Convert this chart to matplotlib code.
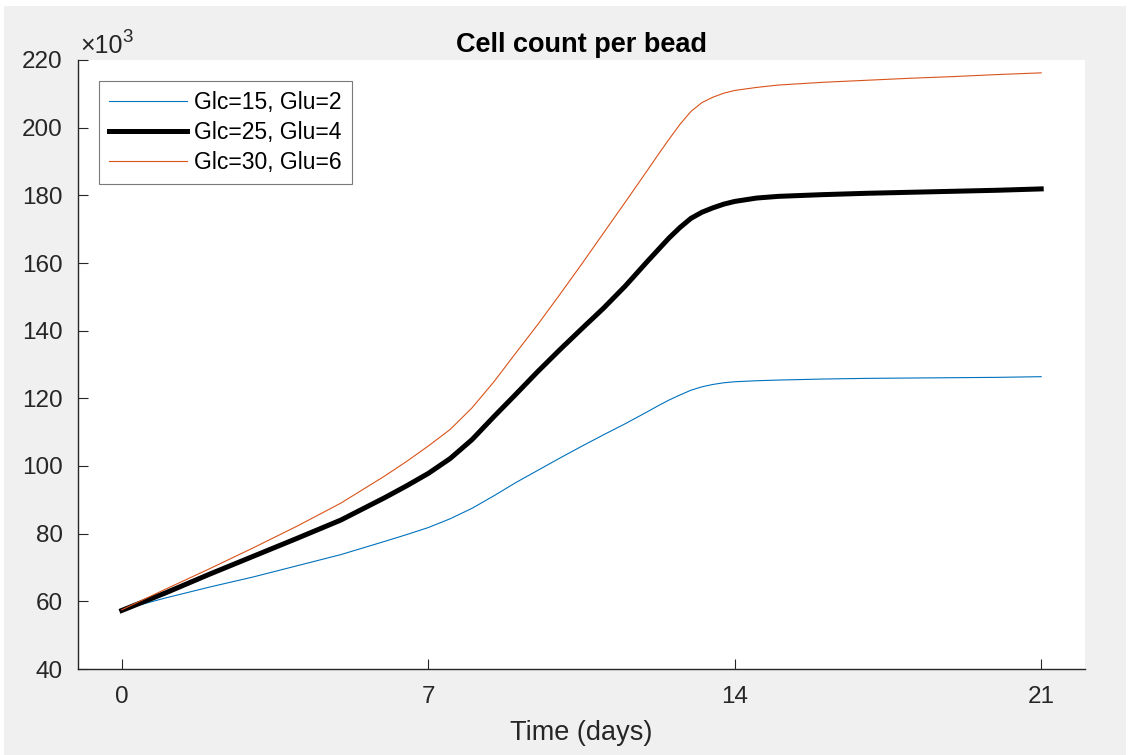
import numpy as np
import matplotlib
matplotlib.use("Agg")
import matplotlib.pyplot as plt
from matplotlib.patches import Rectangle

# time points (days)
days = [0, 1, 2, 3, 4, 5, 6, 6.5, 7, 7.5, 8, 8.5, 9, 9.5, 10, 10.5, 11,
        11.5, 12, 12.25, 12.5, 12.75, 13, 13.25, 13.5, 13.75, 14, 14.5,
        15, 16, 17, 18, 19, 20, 21]

# cell count per bead, in thousands
glc15_glu2 = [57.5, 61.0, 64.2, 67.2, 70.5, 73.8, 77.7, 79.7, 81.8, 84.4,
              87.5, 91.2, 95.1, 98.7, 102.3, 105.8, 109.2,
              112.5, 116.0, 117.8, 119.5, 121.0, 122.4, 123.4, 124.1, 124.6,
              124.9, 125.2, 125.4, 125.7, 125.9, 126.0, 126.1, 126.2, 126.4]
glc25_glu4 = [57.3, 62.5, 68.0, 73.3, 78.6, 84.0, 90.6, 94.1, 97.8, 102.2,
              107.8, 114.6, 121.2, 127.9, 134.3, 140.5, 146.6,
              153.2, 160.4, 163.9, 167.4, 170.5, 173.2, 175.0, 176.3, 177.4,
              178.2, 179.2, 179.7, 180.2, 180.6, 180.9, 181.2, 181.5, 181.9]
glc30_glu6 = [57.5, 63.6, 69.6, 75.8, 82.2, 89.0, 97.0, 101.3, 105.9, 110.8,
              117.2, 124.9, 133.4, 141.8, 150.6, 159.6, 168.8,
              178.0, 187.3, 192.0, 196.6, 201.0, 204.8, 207.4, 209.0, 210.2,
              211.0, 211.9, 212.6, 213.4, 214.0, 214.6, 215.1, 215.7, 216.2]

labels = ["Glc=15, Glu=2", "Glc=25, Glu=4", "Glc=30, Glu=6"]
xticks = [0, 7, 14, 21]
yticks = list(range(40, 221, 20))

plt.rcParams['font.family'] = ['Liberation Sans', 'DejaVu Sans']

axcol = '#262626'

fig = plt.figure(figsize=(11.3, 7.55), dpi=100, facecolor='white')
# grey MATLAB figure background with a thin white screenshot margin
fig.patches.append(Rectangle((4 / 1130, 0), 1122 / 1130, 749 / 755,
                             transform=fig.transFigure, facecolor='#f0f0f0',
                             edgecolor='none', zorder=-10))

ax = fig.add_axes([78 / 1130, 86 / 755, 1007 / 1130, 609 / 755])
ax.set_facecolor('white')

ax.plot(days, glc15_glu2, color='#0072BD', lw=0.8, label=labels[0],
        solid_joinstyle='round')
ax.plot(days, glc25_glu4, color='black', lw=3.6, label=labels[1],
        solid_joinstyle='round')
ax.plot(days, glc30_glu6, color='#D95319', lw=0.8, label=labels[2],
        solid_joinstyle='round')

ax.set_xlim(-1, 22)
ax.set_ylim(40, 220)
ax.set_xticks(xticks)
ax.set_yticks(yticks)

for s in ['top', 'right']:
    ax.spines[s].set_visible(False)
for s in ['left', 'bottom']:
    ax.spines[s].set_color(axcol)
    ax.spines[s].set_linewidth(1.0)

ax.tick_params(axis='both', direction='in', length=7, width=0.8,
               colors=axcol, labelsize=17.5)
ax.tick_params(axis='x', pad=12)
ax.tick_params(axis='y', pad=11)

ax.set_xlabel('Time (days)', fontsize=19.5, color=axcol, labelpad=9)
ax.set_title('Cell count per bead', fontsize=19.5, fontweight='bold',
             color='black', pad=6)

# MATLAB style exponent label above the y axis
ax.annotate('\u00d710', xy=(0, 1), xycoords='axes fraction',
            xytext=(1.5, 5), textcoords='offset points',
            ha='left', va='baseline', fontsize=18, color=axcol)
ax.annotate('3', xy=(0, 1), xycoords='axes fraction',
            xytext=(32, 13), textcoords='offset points',
            ha='left', va='baseline', fontsize=13.5, color=axcol)

leg = ax.legend(loc='upper left', bbox_to_anchor=(0.0209, 0.9655),
                borderaxespad=0, fontsize=16.5, handlelength=3.4,
                handletextpad=0.3, labelspacing=0.3, borderpad=0.45,
                fancybox=False, framealpha=1, edgecolor='#7a7a7a')
leg.get_frame().set_linewidth(0.8)
for t in leg.get_texts():
    t.set_color('black')

fig.savefig('out.png', dpi=100, facecolor=fig.get_facecolor())
